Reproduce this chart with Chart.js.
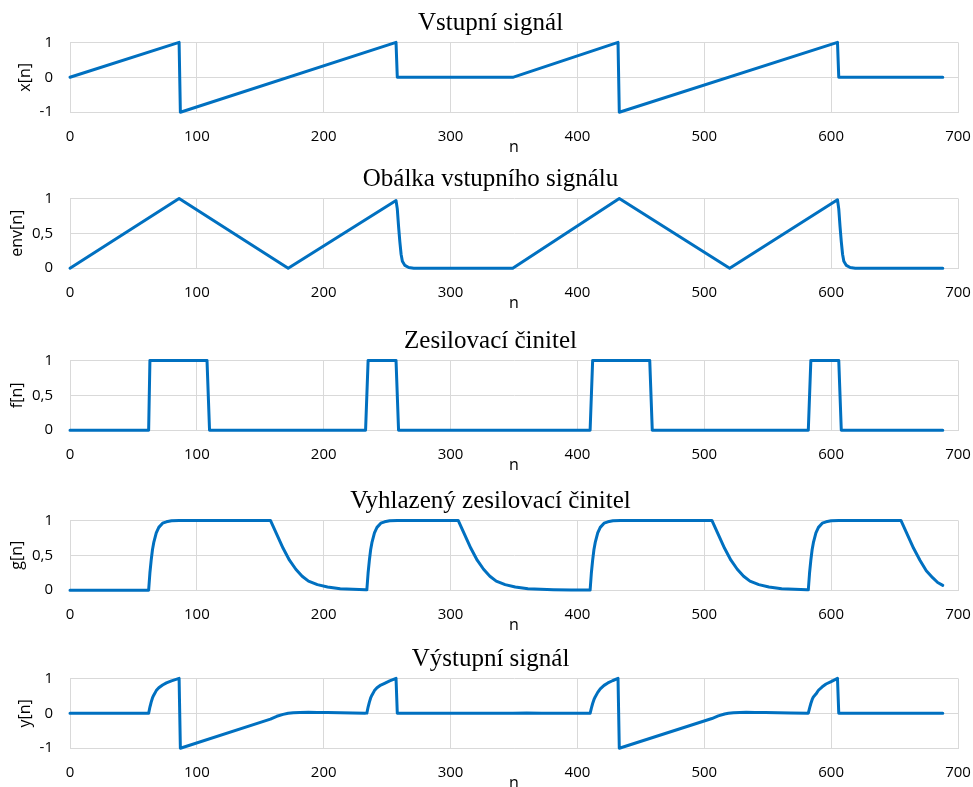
<!DOCTYPE html>
<html>

<head>
    <meta charset="utf-8">
    <title>Signály</title>
    <script src="https://cdn.jsdelivr.net/npm/chart.js@4.4.1/dist/chart.umd.min.js"></script>
    <style>
        html, body { margin: 0; padding: 0; background: #fff; overflow: hidden; }
        canvas { position: absolute; left: 0; }
    </style>
</head>

<body>
    <canvas id="c1" width="973" height="160" style="top: 0px"></canvas>
    <canvas id="c2" width="973" height="160" style="top: 156px"></canvas>
    <canvas id="c3" width="973" height="160" style="top: 318px"></canvas>
    <canvas id="c4" width="973" height="160" style="top: 478px"></canvas>
    <canvas id="c5" width="973" height="160" style="top: 636px"></canvas>
    <script type="text/javascript">
    // x axis (n) ticks
    var nTicks = [0, 100, 200, 300, 400, 500, 600, 700];

    // y ticks
    var ySymTicks = [-1, 0, 1];
    var ySymLabels = ['-1', '0', '1'];
    var yPosTicks = [0, 0.5, 1];
    var yPosLabels = ['0', '0,5', '1'];

    // Vstupní signál
    var xN = [0, 86, 87, 257, 258, 349, 432, 433, 605, 606, 688];
    var xV = [0, 1, -1, 1, 0, 0, 1, -1, 1, 0, 0];

    // Obálka vstupního signálu
    var envN = [0, 86, 172, 257, 258, 259, 260, 261, 262, 264, 267, 271, 349, 433, 520, 605, 606, 607, 608, 609, 610, 612, 615, 619, 688];
    var envV = [0, 1, 0, 0.97, 0.85, 0.6, 0.38, 0.2, 0.1, 0.04, 0.01, 0, 0, 1, 0, 0.98, 0.85, 0.6, 0.38, 0.2, 0.1, 0.04, 0.01, 0, 0];

    // Zesilovací činitel
    var fN = [0, 62, 63, 108, 110, 233, 235, 257, 259, 410, 412, 457, 459, 582, 584, 606, 608, 688];
    var fV = [0, 0, 1, 1, 0, 0, 1, 1, 0, 0, 1, 1, 0, 0, 1, 1, 0, 0];

    // Vyhlazený zesilovací činitel
    var gN = [0, 62, 63, 64, 65, 66, 68, 70, 73, 76, 80, 86,
        158, 163, 168, 173, 178, 183, 188, 195, 203, 213, 223, 233,
        234, 235, 236, 237, 238, 240, 242, 245, 248, 252, 258,
        306, 311, 316, 321, 326, 331, 336, 343, 351, 361, 371, 381, 395, 409,
        410, 411, 412, 413, 414, 416, 418, 421, 424, 428, 434,
        506, 511, 516, 521, 526, 531, 536, 543, 551, 561, 571, 581,
        582, 583, 584, 585, 586, 588, 590, 593, 596, 600, 606,
        655, 660, 665, 670, 675, 680, 684, 688];
    var gV = [0, 0, 0.25, 0.43, 0.58, 0.68, 0.82, 0.9, 0.96, 0.98, 0.995, 1,
        1, 0.8, 0.6, 0.43, 0.3, 0.2, 0.13, 0.08, 0.045, 0.022, 0.012, 0.006,
        0.006, 0.25, 0.43, 0.58, 0.68, 0.82, 0.9, 0.96, 0.98, 0.995, 1,
        1, 0.8, 0.6, 0.43, 0.3, 0.2, 0.13, 0.08, 0.045, 0.022, 0.012, 0.006, 0.003, 0.002,
        0.002, 0.25, 0.43, 0.58, 0.68, 0.82, 0.9, 0.96, 0.98, 0.995, 1,
        1, 0.8, 0.6, 0.43, 0.3, 0.2, 0.13, 0.08, 0.045, 0.022, 0.012, 0.006,
        0.006, 0.25, 0.43, 0.58, 0.68, 0.82, 0.9, 0.96, 0.98, 0.995, 1,
        1, 0.8, 0.6, 0.43, 0.28, 0.18, 0.11, 0.07];

    // Výstupní signál
    var yN = [0, 62, 63, 64, 65, 66, 68, 70, 73, 76, 80, 86,
        87, 158, 163, 168, 172, 176, 181, 188, 195, 203, 213, 223, 233,
        234, 235, 236, 237, 238, 240, 242, 245, 248, 252, 257, 258, 349, 360, 372, 410,
        411, 412, 413, 414, 416, 418, 421, 424, 428, 432,
        433, 506, 511, 516, 519, 523, 528, 533, 540, 548, 558, 568, 582,
        583, 584, 585, 586, 588, 590, 593, 596, 600, 605, 606, 688];
    var yV = [0, 0, 0.18, 0.32, 0.44, 0.52, 0.65, 0.73, 0.81, 0.87, 0.93, 1,
        -1, -0.165, -0.085, -0.03, 0, 0.015, 0.024, 0.028, 0.025, 0.02, 0.014, 0.009, 0.005,
        0.006, 0.18, 0.32, 0.44, 0.52, 0.65, 0.73, 0.81, 0.86, 0.93, 1, 0, 0, 0.01, 0.005, 0,
        0.15, 0.28, 0.39, 0.47, 0.6, 0.7, 0.8, 0.87, 0.94, 1,
        -1, -0.15, -0.075, -0.02, 0, 0.015, 0.024, 0.028, 0.025, 0.02, 0.013, 0.008, 0.004,
        0.15, 0.28, 0.39, 0.47, 0.55, 0.66, 0.76, 0.84, 0.91, 1, 0, 0];

    Chart.defaults.font.family = "'Open Sans', sans-serif";
    Chart.defaults.color = '#000';

    function makeChart(id, title, yTitle, n, v, yTicks, yLabels, yTitlePad) {
        var pts = [];
        for (var i = 0; i < n.length; i++) {
            pts.push({ x: n[i], y: v[i] });
        }
        return new Chart(document.getElementById(id), {
            type: 'line',
            data: {
                datasets: [{
                    data: pts,
                    borderColor: '#0070C0',
                    borderWidth: 3,
                    borderJoinStyle: 'round',
                    borderCapStyle: 'round',
                    pointRadius: 0,
                    fill: false,
                    tension: 0,
                    clip: false
                }]
            },
            options: {
                responsive: false,
                animation: false,
                layout: { autoPadding: false, padding: { left: 10, right: 2, top: 0, bottom: 3.8 } },
                plugins: {
                    legend: { display: false },
                    tooltip: { enabled: false },
                    title: {
                        display: true,
                        text: title,
                        color: '#000',
                        font: { family: "'Liberation Serif', serif", size: 25, weight: 'normal' },
                        padding: { top: 8.4, bottom: 4 }
                    }
                },
                scales: {
                    x: {
                        type: 'linear',
                        min: 0,
                        max: 700,
                        afterBuildTicks: function(s) {
                            s.ticks = nTicks.map(function(t) { return { value: t }; });
                        },
                        afterFit: function(s) {
                            s.height = 44;
                            s.paddingLeft = 5;
                            s.paddingRight = 15;
                        },
                        ticks: { padding: 16, font: { size: 15 }, maxRotation: 0, autoSkip: false },
                        grid: { color: '#D9D9D9', drawTicks: false },
                        border: { color: '#D9D9D9' },
                        title: { display: true, text: 'n', font: { size: 16 }, padding: { top: 0, bottom: -1 } }
                    },
                    y: {
                        min: yTicks[0],
                        max: yTicks[yTicks.length - 1],
                        afterBuildTicks: function(s) {
                            s.ticks = yTicks.map(function(t) { return { value: t }; });
                        },
                        afterFit: function(s) { s.width = 60; },
                        ticks: {
                            padding: 17,
                            font: { size: 15 },
                            callback: function(value) { return yLabels[yTicks.indexOf(value)]; }
                        },
                        grid: { color: '#D9D9D9', drawTicks: false },
                        border: { color: '#D9D9D9' },
                        title: { display: true, text: yTitle, font: { size: 16 }, padding: { top: yTitlePad, bottom: 0 } }
                    }
                }
            }
        });
    }

    makeChart('c1', 'Vstupní signál', 'x[n]', xN, xV, ySymTicks, ySymLabels, 5.4);
    makeChart('c2', 'Obálka vstupního signálu', 'env[n]', envN, envV, yPosTicks, yPosLabels, -2.6);
    makeChart('c3', 'Zesilovací činitel', 'f[n]', fN, fV, yPosTicks, yPosLabels, -2.6);
    makeChart('c4', 'Vyhlazený zesilovací činitel', 'g[n]', gN, gV, yPosTicks, yPosLabels, -2.6);
    makeChart('c5', 'Výstupní signál', 'y[n]', yN, yV, ySymTicks, ySymLabels, 5.4);
    </script>
</body>

</html>
